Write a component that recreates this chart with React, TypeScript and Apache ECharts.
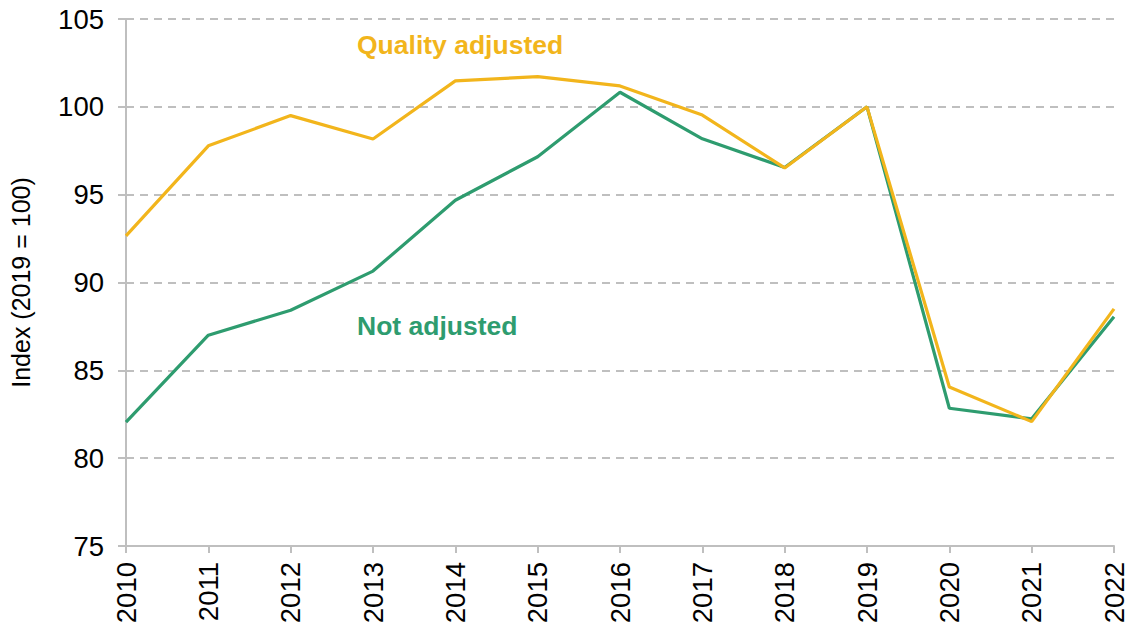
import React, { useEffect, useRef } from "react";
import * as echarts from "echarts";

const years = ["2010", "2011", "2012", "2013", "2014", "2015", "2016", "2017", "2018", "2019", "2020", "2021", "2022"];
const qualityAdjusted = [92.65, 97.78, 99.5, 98.17, 101.48, 101.72, 101.19, 99.53, 96.52, 100, 84.05, 82.08, 88.5];
const notAdjusted = [82.05, 87.0, 88.42, 90.65, 94.68, 97.16, 100.83, 98.18, 96.55, 100, 82.84, 82.24, 88.05];

const YELLOW = "#F2B51C";
const GREEN = "#2E9C6F";
const GREY = "#BFBFBF";
const FONT = "Liberation Sans, Arial, Helvetica, sans-serif";

export default function App() {
  const ref = useRef<HTMLDivElement>(null);
  useEffect(() => {
    if (!ref.current) return;
    const chart = echarts.init(ref.current, undefined, { renderer: "svg" });
    chart.setOption({
      animation: false,
      backgroundColor: "#ffffff",
      grid: { left: 126, right: 16, top: 19, bottom: 85, containLabel: false },
      xAxis: {
        type: "category",
        data: years,
        boundaryGap: false,
        axisLine: { lineStyle: { color: GREY, width: 2 } },
        axisTick: { show: true, length: 7, lineStyle: { color: GREY, width: 2 } },
        axisLabel: { rotate: 90, margin: 16, color: "#000", fontSize: 27.5, fontFamily: FONT },
        splitLine: { show: false },
      },
      yAxis: {
        type: "value",
        min: 75,
        max: 105,
        interval: 5,
        name: "Index (2019 = 100)",
        nameLocation: "middle",
        nameGap: 93,
        nameRotate: 90,
        nameTextStyle: { color: "#000", fontSize: 25, fontFamily: FONT },
        axisLine: { show: true, lineStyle: { color: GREY, width: 2 } },
        axisTick: { show: true, length: 8, lineStyle: { color: GREY, width: 2 } },
        axisLabel: { margin: 22, color: "#000", fontSize: 27.5, fontFamily: FONT },
        splitLine: { show: true, lineStyle: { color: GREY, width: 2, type: [8, 6] } },
      },
      series: [
        {
          name: "Not adjusted",
          type: "line",
          data: notAdjusted,
          symbol: "none",
          lineStyle: { color: GREEN, width: 3.2 },
          z: 2,
        },
        {
          name: "Quality adjusted",
          type: "line",
          data: qualityAdjusted,
          symbol: "none",
          lineStyle: { color: YELLOW, width: 3.2 },
          z: 3,
        },
      ],
      graphic: [
        {
          type: "text",
          x: 357,
          y: 45,
          style: { text: "Quality adjusted", fill: YELLOW, font: `bold 26.5px ${FONT}`, textAlign: "left", textVerticalAlign: "middle" },
        },
        {
          type: "text",
          x: 357,
          y: 326,
          style: { text: "Not adjusted", fill: GREEN, font: `bold 26.5px ${FONT}`, textAlign: "left", textVerticalAlign: "middle" },
        },
      ],
    });
    return () => chart.dispose();
  }, []);
  return <div ref={ref} style={{ width: 1130, height: 631, position: "absolute", left: 0, top: 0 }} />;
}
